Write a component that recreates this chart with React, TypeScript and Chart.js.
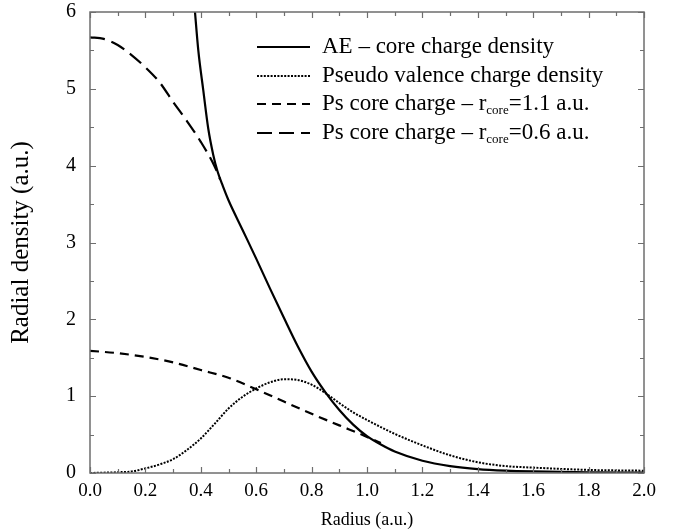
import React, { useEffect, useRef } from "react";
import { Chart, registerables } from "chart.js";

Chart.register(...registerables);

// AE – core charge density (solid)
const aeRadius = [0.37, 0.379, 0.391, 0.409, 0.427, 0.445, 0.46, 0.48, 0.5, 0.55, 0.6, 0.65, 0.7, 0.75, 0.8, 0.85, 0.9, 0.95, 1.0, 1.05, 1.1, 1.2, 1.3, 1.4, 1.5, 1.6, 1.8, 2.0];
const aeDensity = [6.4, 6.0, 5.5, 4.98, 4.48, 4.14, 3.93, 3.73, 3.55, 3.17, 2.79, 2.4, 2.02, 1.65, 1.32, 1.05, 0.82, 0.63, 0.48, 0.37, 0.28, 0.16, 0.09, 0.05, 0.03, 0.02, 0.01, 0.005];

// Pseudo valence charge density (dotted)
const valenceRadius = [0.0, 0.1, 0.15, 0.2, 0.25, 0.3, 0.35, 0.4, 0.45, 0.5, 0.55, 0.6, 0.65, 0.7, 0.75, 0.8, 0.85, 0.9, 0.95, 1.0, 1.1, 1.2, 1.3, 1.4, 1.5, 1.6, 1.8, 2.0];
const valenceDensity = [0.0, 0.01, 0.02, 0.06, 0.11, 0.18, 0.3, 0.45, 0.64, 0.84, 0.99, 1.1, 1.18, 1.22, 1.21, 1.15, 1.04, 0.91, 0.79, 0.69, 0.51, 0.36, 0.23, 0.14, 0.09, 0.07, 0.04, 0.03];

// Ps core charge – r_core = 1.1 a.u. (short dashes)
const core11Radius = [0.0, 0.1, 0.2, 0.3, 0.4, 0.5, 0.6, 0.7, 0.8, 0.9, 1.0, 1.05];
const core11Density = [1.59, 1.56, 1.51, 1.44, 1.34, 1.24, 1.09, 0.93, 0.77, 0.62, 0.47, 0.39];

// Ps core charge – r_core = 0.6 a.u. (long dashes)
const core06Radius = [0.0, 0.05, 0.1, 0.15, 0.2, 0.25, 0.3, 0.35, 0.4, 0.45, 0.47];
const core06Density = [5.67, 5.65, 5.57, 5.44, 5.28, 5.09, 4.83, 4.58, 4.31, 3.99, 3.82];

const xTickValues = [0, 0.2, 0.4, 0.6, 0.8, 1.0, 1.2, 1.4, 1.6, 1.8, 2.0];
const xTickLabels = ["0.0", "0.2", "0.4", "0.6", "0.8", "1.0", "1.2", "1.4", "1.6", "1.8", "2.0"];
const yTickValues = [0, 1, 2, 3, 4, 5, 6];
const yTickLabels = ["0", "1", "2", "3", "4", "5", "6"];

const xTitle = "Radius (a.u.)";
const yTitle = "Radial density (a.u.)";

const legendMain = ["AE – core charge density", "Pseudo valence charge density", "Ps core charge – r", "Ps core charge – r"];
const legendSub = ["", "", "core", "core"];
const legendTail = ["", "", "=1.1 a.u.", "=0.6 a.u."];

const SERIF = "'Liberation Serif', 'Times New Roman', serif";

const styles = [
  { dash: [] as number[], width: 2.2 },
  { dash: [2, 1.4], width: 2 },
  { dash: [9, 6], width: 2.2 },
  { dash: [15, 7], width: 2.2 },
];

const pts = (xs: number[], ys: number[]) => xs.map((x, i) => ({ x, y: ys[i] }));

const framePlugin = {
  id: "framePlugin",
  afterDraw(chart: any) {
    const { ctx, chartArea } = chart;
    const xs = chart.scales.x;
    const ys = chart.scales.y;
    const { left, right, top, bottom } = chartArea;
    ctx.save();
    ctx.strokeStyle = "#6e6e6e";
    ctx.lineWidth = 1.5;
    ctx.setLineDash([]);
    ctx.strokeRect(left, top, right - left, bottom - top);
    ctx.beginPath();
    for (let i = 0; i <= 20; i++) {
      const v = i * 0.1;
      const px = Math.round(xs.getPixelForValue(v)) + 0.5;
      const len = i % 2 === 0 ? 6 : 4;
      ctx.moveTo(px, bottom);
      ctx.lineTo(px, bottom - len);
      ctx.moveTo(px, top);
      ctx.lineTo(px, top + len);
    }
    for (let i = 0; i <= 12; i++) {
      const v = i * 0.5;
      const py = Math.round(ys.getPixelForValue(v)) + 0.5;
      const len = i % 2 === 0 ? 6 : 4;
      ctx.moveTo(left, py);
      ctx.lineTo(left + len, py);
      ctx.moveTo(right, py);
      ctx.lineTo(right - len, py);
    }
    ctx.lineWidth = 1.2;
    ctx.stroke();

    // legend
    const lx0 = 257;
    const lx1 = 310;
    const tx = 322;
    const rows = [47, 76, 104, 133];
    ctx.fillStyle = "#000";
    ctx.strokeStyle = "#000";
    ctx.textBaseline = "middle";
    ctx.textAlign = "left";
    rows.forEach((ry, i) => {
      ctx.beginPath();
      ctx.setLineDash(styles[i].dash);
      ctx.lineWidth = styles[i].width;
      ctx.moveTo(lx0, ry);
      ctx.lineTo(lx1, ry);
      ctx.stroke();
      ctx.setLineDash([]);
      ctx.font = `23px ${SERIF}`;
      ctx.fillText(legendMain[i], tx, ry);
      let x = tx + ctx.measureText(legendMain[i]).width;
      if (legendSub[i]) {
        ctx.font = `13px ${SERIF}`;
        ctx.fillText(legendSub[i], x, ry + 7);
        x += ctx.measureText(legendSub[i]).width;
        ctx.font = `23px ${SERIF}`;
        ctx.fillText(legendTail[i], x, ry);
      }
    });
    ctx.restore();
  },
};

export default function App() {
  const ref = useRef<HTMLCanvasElement | null>(null);
  useEffect(() => {
    if (!ref.current) return;
    const chart = new Chart(ref.current, {
      type: "scatter",
      data: {
        datasets: [
          { label: "AE", data: pts(aeRadius, aeDensity) },
          { label: "Valence", data: pts(valenceRadius, valenceDensity) },
          { label: "Core 1.1", data: pts(core11Radius, core11Density) },
          { label: "Core 0.6", data: pts(core06Radius, core06Density) },
        ].map((d, i) => ({
          ...d,
          showLine: true,
          pointRadius: 0,
          borderColor: "#000",
          backgroundColor: "#000",
          borderWidth: styles[i].width,
          borderDash: styles[i].dash,
          cubicInterpolationMode: "monotone" as const,
          fill: false,
        })),
      },
      options: {
        responsive: false,
        animation: false,
        layout: { padding: { top: 0, right: 34, left: 0, bottom: 0 } },
        plugins: { legend: { display: false }, tooltip: { enabled: false } },
        scales: {
          x: {
            type: "linear",
            min: 0,
            max: 2,
            grid: { display: false, drawTicks: false },
            border: { display: false },
            afterBuildTicks: (s: any) => {
              s.ticks = xTickValues.map((v) => ({ value: v }));
            },
            afterFit: (s: any) => {
              s.height = 56;
            },
            ticks: {
              padding: 7,
              color: "#000",
              font: { family: SERIF, size: 19 },
              maxRotation: 0,
              autoSkip: false,
              callback: (v: any) => xTickLabels[xTickValues.findIndex((t) => Math.abs(t - Number(v)) < 1e-6)] ?? "",
            },
            title: {
              display: true,
              text: xTitle,
              color: "#000",
              font: { family: SERIF, size: 18, lineHeight: 1 },
              padding: { top: 0, bottom: 0 },
            },
          },
          y: {
            type: "linear",
            min: 0,
            max: 6,
            grid: { display: false, drawTicks: false },
            border: { display: false },
            afterBuildTicks: (s: any) => {
              s.ticks = yTickValues.map((v) => ({ value: v }));
            },
            afterFit: (s: any) => {
              s.width = 90;
              s.paddingTop = 12;
              s.paddingBottom = 0;
            },
            ticks: {
              padding: 14,
              color: "#000",
              font: { family: SERIF, size: 20, lineHeight: 1.2 },
              autoSkip: false,
              callback: (v: any) => yTickLabels[yTickValues.findIndex((t) => Math.abs(t - Number(v)) < 1e-6)] ?? "",
            },
            title: {
              display: true,
              text: yTitle,
              color: "#000",
              font: { family: SERIF, size: 25, lineHeight: 1 },
              padding: { top: 9, bottom: 0 },
            },
          },
        },
      },
      plugins: [framePlugin],
    });
    return () => chart.destroy();
  }, []);
  return (
    <div style={{ position: "fixed", left: 0, top: 0, width: 678, height: 529, background: "#fff" }}>
      <canvas ref={ref} width={678} height={529} style={{ width: 678, height: 529, display: "block" }} />
    </div>
  );
}
